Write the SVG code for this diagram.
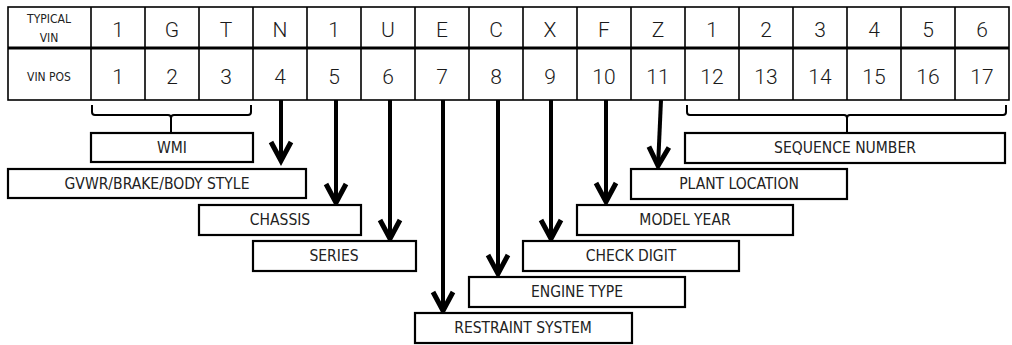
<svg xmlns="http://www.w3.org/2000/svg" width="1012" height="345" viewBox="0 0 1012 345">
<style>
.bg{fill:#fff}
.cell{fill:none;stroke:#000;stroke-width:1.6}
.mid{stroke:#000;stroke-width:2.8}
.tv{font-family:Roboto,"Liberation Sans",sans-serif;font-size:21px;font-weight:300;fill:#1a1a1a;text-anchor:middle}
.sm{font-family:"Liberation Sans Narrow","DejaVu Sans Condensed","Liberation Sans",sans-serif;font-size:12px;fill:#222;text-anchor:middle}
.box{fill:#fff;stroke:#000;stroke-width:2.2}
.lbl{font-family:"Liberation Sans Narrow","DejaVu Sans Condensed","Liberation Sans",sans-serif;font-size:15.5px;fill:#222;text-anchor:middle}
.arr{stroke:#000;stroke-width:4;fill:none;marker-end:url(#chev)}
.brace{stroke:#000;stroke-width:2;fill:none}
</style>
<defs>
<marker id="chev" markerUnits="userSpaceOnUse" orient="auto" refX="0" refY="0" markerWidth="30" markerHeight="30" viewBox="-20 -12 24 24" overflow="visible">
<path d="M-16,-8 L-1,0 L-16,8" fill="none" stroke="#000" stroke-width="4"/>
</marker>
</defs>
<rect class="bg" x="0" y="0" width="1012" height="345"/>
<g id="table">
<rect class="cell" x="8" y="7" width="1001" height="93"/>
<line class="mid" x1="8" y1="48" x2="1009" y2="48"/>
<path class="cell" d="M91,7V100M145,7V100M199,7V100M253,7V100M307,7V100M361,7V100M415,7V100M469,7V100M523,7V100M577,7V100M631,7V100M685,7V100M739,7V100M793,7V100M847,7V100M901,7V100M955,7V100"/>
<text class="sm" x="49" y="23">TYPICAL</text>
<text class="sm" x="49" y="42">VIN</text>
<text class="sm" x="49" y="81">VIN POS</text>
<text class="tv" x="118" y="37">1</text>
<text class="tv" x="172" y="37">G</text>
<text class="tv" x="226" y="37">T</text>
<text class="tv" x="280" y="37">N</text>
<text class="tv" x="334" y="37">1</text>
<text class="tv" x="388" y="37">U</text>
<text class="tv" x="442" y="37">E</text>
<text class="tv" x="496" y="37">C</text>
<text class="tv" x="550" y="37">X</text>
<text class="tv" x="604" y="37">F</text>
<text class="tv" x="658" y="37">Z</text>
<text class="tv" x="712" y="37">1</text>
<text class="tv" x="766" y="37">2</text>
<text class="tv" x="820" y="37">3</text>
<text class="tv" x="874" y="37">4</text>
<text class="tv" x="928" y="37">5</text>
<text class="tv" x="982" y="37">6</text>
<text class="tv" x="118" y="84">1</text>
<text class="tv" x="172" y="84">2</text>
<text class="tv" x="226" y="84">3</text>
<text class="tv" x="280" y="84">4</text>
<text class="tv" x="334" y="84">5</text>
<text class="tv" x="388" y="84">6</text>
<text class="tv" x="442" y="84">7</text>
<text class="tv" x="496" y="84">8</text>
<text class="tv" x="550" y="84">9</text>
<text class="tv" x="604" y="84">10</text>
<text class="tv" x="658" y="84">11</text>
<text class="tv" x="712" y="84">12</text>
<text class="tv" x="766" y="84">13</text>
<text class="tv" x="820" y="84">14</text>
<text class="tv" x="874" y="84">15</text>
<text class="tv" x="928" y="84">16</text>
<text class="tv" x="982" y="84">17</text>
</g>
<g id="connectors">
<path class="brace" d="M92,105 L92,112 Q92,115 95,115 L168,115 Q171,115 171,118 L171,134 M171,118 Q171,115 174,115 L248,115 Q251,115 251,112 L251,105"/>
<path class="brace" d="M687,105 L687,112 Q687,115 690,115 L844,115 Q847,115 847,118 L847,133 M847,118 Q847,115 850,115 L1003,115 Q1006,115 1006,112 L1006,105"/>
<line class="arr" x1="281" y1="100" x2="281" y2="162"/>
<line class="arr" x1="336" y1="100" x2="336" y2="204"/>
<line class="arr" x1="390" y1="100" x2="390" y2="240"/>
<line class="arr" x1="443" y1="100" x2="443" y2="312"/>
<line class="arr" x1="498" y1="100" x2="498" y2="275"/>
<line class="arr" x1="551" y1="100" x2="551" y2="240"/>
<line class="arr" x1="606" y1="100" x2="606" y2="203"/>
<line class="arr" x1="661" y1="100" x2="658" y2="167"/>
</g>
<g id="wmi"><rect class="box" x="91" y="133" width="162" height="29"/><text class="lbl" x="172" y="153">WMI</text></g>
<g id="gvwr"><rect class="box" x="8" y="169" width="298" height="29"/><text class="lbl" x="157" y="189">GVWR/BRAKE/BODY STYLE</text></g>
<g id="chassis"><rect class="box" x="199" y="205" width="162" height="30"/><text class="lbl" x="280" y="225">CHASSIS</text></g>
<g id="series"><rect class="box" x="253" y="241" width="163" height="30"/><text class="lbl" x="334" y="261">SERIES</text></g>
<g id="restraint"><rect class="box" x="415" y="313" width="217" height="30"/><text class="lbl" x="523" y="333">RESTRAINT SYSTEM</text></g>
<g id="engine"><rect class="box" x="469" y="277" width="216" height="30"/><text class="lbl" x="577" y="297">ENGINE TYPE</text></g>
<g id="check"><rect class="box" x="523" y="241" width="216" height="30"/><text class="lbl" x="631" y="261">CHECK DIGIT</text></g>
<g id="model"><rect class="box" x="577" y="205" width="216" height="30"/><text class="lbl" x="685" y="225">MODEL YEAR</text></g>
<g id="plant"><rect class="box" x="631" y="169" width="216" height="30"/><text class="lbl" x="739" y="189">PLANT LOCATION</text></g>
<g id="sequence"><rect class="box" x="685" y="133" width="320" height="30"/><text class="lbl" x="845" y="153">SEQUENCE NUMBER</text></g>
</svg>
